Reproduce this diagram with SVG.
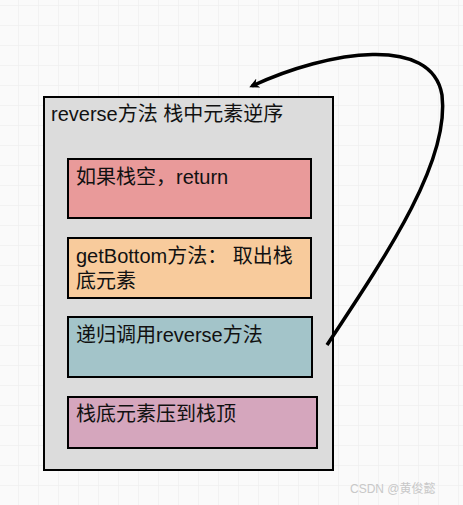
<svg xmlns="http://www.w3.org/2000/svg" width="463" height="505" viewBox="0 0 463 505">
<defs>
<pattern id="grid" x="18" y="5" width="20" height="20" patternUnits="userSpaceOnUse">
<path d="M0 0H20M0 0V20" fill="none" stroke="#efefef" stroke-width="1.5"/>
</pattern>
<marker id="ah" markerWidth="10" markerHeight="10" refX="7" refY="5" orient="auto" markerUnits="userSpaceOnUse" viewBox="0 0 10 10">
<path d="M0 0L10 5L0 10L3 5Z" fill="#000"/>
</marker>
<style>
.box{stroke:#000;stroke-width:2}
.t{font-family:"Liberation Sans","Noto Sans CJK SC",sans-serif;font-size:20px;fill:#111}
</style>
</defs>
<rect width="463" height="505" fill="#fafafa"/>
<rect width="463" height="505" fill="url(#grid)"/>
<g id="outer">
<rect class="box" x="44" y="97" width="289" height="373" fill="#dcdcdc"/>
<text class="t" x="51" y="121">reverse方法 栈中元素逆序</text>
</g>
<g id="n1">
<rect class="box" x="68" y="159" width="243" height="59" fill="#e99a9a"/>
<text class="t" x="76" y="184">如果栈空，return</text>
</g>
<g id="n2">
<rect class="box" x="68" y="238" width="243" height="60" fill="#f8cb9c"/>
<text class="t" x="76" y="263">getBottom方法： 取出栈</text>
<text class="t" x="76" y="288">底元素</text>
</g>
<g id="n3">
<rect class="box" x="68" y="317" width="244" height="60" fill="#a3c4c9"/>
<text class="t" x="76" y="342">递归调用reverse方法</text>
</g>
<g id="n4">
<rect class="box" x="68" y="397" width="249" height="51" fill="#d5a6bd"/>
<text class="t" x="76" y="421">栈底元素压到栈顶</text>
</g>
<g id="connectors">
<path d="M327 345C390 250 450 160 442 95C432 35 330 50 252 86" fill="none" stroke="#000" stroke-width="3.5" marker-end="url(#ah)"/>
</g>
<text x="350" y="493" font-family="'Liberation Sans','Noto Sans CJK SC',sans-serif" font-size="12" fill="#c8c8c8">CSDN @黄俊懿</text>
</svg>
